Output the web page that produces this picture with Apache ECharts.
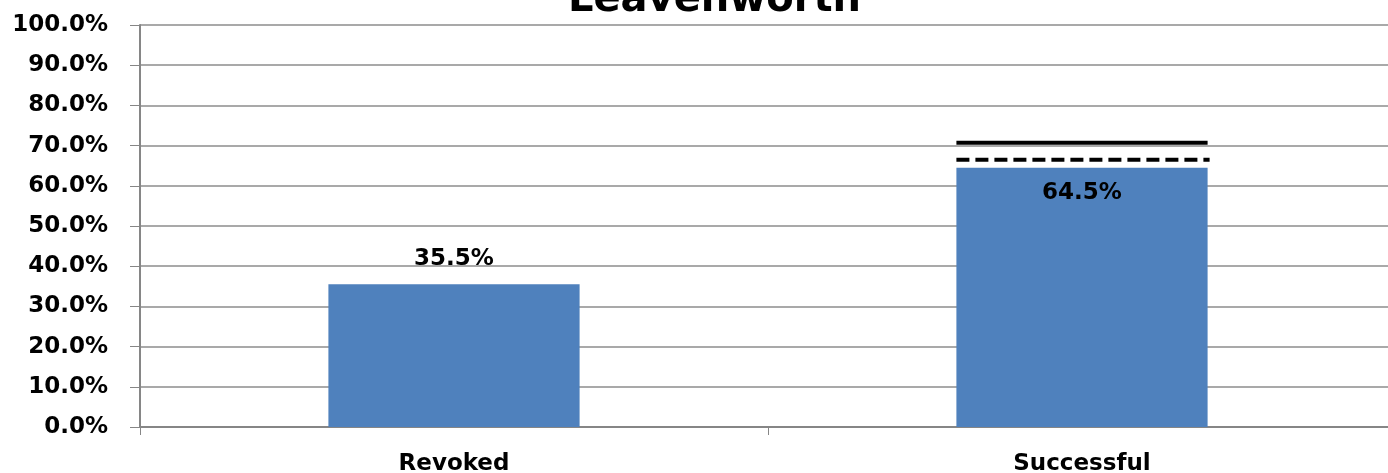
<!DOCTYPE html>
<html>
<head>
<meta charset="utf-8">
<script src="https://cdn.jsdelivr.net/npm/echarts@6/dist/echarts.min.js"></script>
<style>
  html, body { margin: 0; padding: 0; background: #fff; }
  #chart { width: 1388px; height: 473px; }
</style>
</head>
<body>
<div id="chart"></div>
<script>
// categories and values (percent)
var categories = ['Revoked', 'Successful'];
var shares = [35.5, 64.5];
// reference lines drawn over the Successful bar
var solidLine = [['Successful', 70.7]];
var dashedLine = [['Successful', 66.5]];
var yTicks = [0, 100, 10];

var chart = echarts.init(document.getElementById('chart'));

// short horizontal line across the bar width
function refLine(dash) {
    return function (params, api) {
        var pt = api.coord([api.value(0), api.value(1)]);
        var w = api.size([1, 0])[0] * 0.4;
        return {
            type: 'line',
            shape: { x1: pt[0] - w / 2, y1: pt[1], x2: pt[0] + w / 2 + (dash ? 2 : 0), y2: pt[1] },
            style: { stroke: '#000', lineWidth: 4, lineDash: dash ? [13, 6] : null }
        };
    };
}

var font = 'DejaVu Sans';

var option = {
    animation: false,
    title: {
        text: 'Leavenworth',
        left: 563,
        top: -24,
        textStyle: { fontFamily: font, fontWeight: 'bold', fontSize: 40, color: '#000' }
    },
    grid: { left: 140, right: -8, top: 25, bottom: 46, containLabel: false, outerBoundsMode: 'none' },
    xAxis: {
        type: 'category',
        data: categories,
        axisLine: { lineStyle: { color: '#868686', width: 2 } },
        axisTick: { show: true, length: 8, lineStyle: { color: '#868686', width: 1 } },
        axisLabel: { fontFamily: font, fontWeight: 'bold', fontSize: 23, color: '#000', margin: 26 }
    },
    yAxis: {
        type: 'value',
        min: yTicks[0],
        max: yTicks[1],
        interval: yTicks[2],
        axisLine: { show: true, lineStyle: { color: '#868686', width: 2 } },
        axisTick: { show: true, length: 10, lineStyle: { color: '#868686' } },
        splitLine: { lineStyle: { color: '#8c8c8c', width: 1.5 } },
        axisLabel: {
            fontFamily: font, fontWeight: 'bold', fontSize: 23, color: '#000', margin: 32,
            formatter: function (v) { return v.toFixed(1) + '%'; }
        }
    },
    series: [{
        type: 'bar',
        barWidth: '40%',
        itemStyle: { color: '#4F81BD' },
        data: shares.map(function (v, i) {
            return {
                value: v,
                label: i === 0
                    ? { position: 'top', distance: 14 }
                    : { position: 'insideTop', distance: 14 }
            };
        }),
        label: {
            show: true,
            fontFamily: font, fontWeight: 'bold', fontSize: 23, color: '#000',
            formatter: function (p) { return p.value.toFixed(1) + '%'; }
        },
        z: 2
    }, {
        type: 'custom',
        renderItem: refLine(false),
        data: solidLine,
        z: 3
    }, {
        type: 'custom',
        renderItem: refLine(true),
        data: dashedLine,
        z: 3
    }]
};
chart.setOption(option);
</script>
</body>
</html>
